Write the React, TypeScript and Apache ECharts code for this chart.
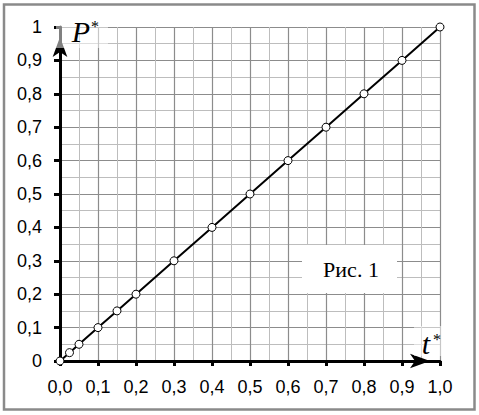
import React, { useEffect, useRef } from 'react';
import * as echarts from 'echarts';

const tValues = [0, 0.025, 0.05, 0.1, 0.15, 0.2, 0.3, 0.4, 0.5, 0.6, 0.7, 0.8, 0.9, 1.0];
const pValues = [0, 0.025, 0.05, 0.1, 0.15, 0.2, 0.3, 0.4, 0.5, 0.6, 0.7, 0.8, 0.9, 1.0];
const xTickLabels = ['0,0', '0,1', '0,2', '0,3', '0,4', '0,5', '0,6', '0,7', '0,8', '0,9', '1,0'];
const yTickLabels = ['0', '0,1', '0,2', '0,3', '0,4', '0,5', '0,6', '0,7', '0,8', '0,9', '1'];
const figureCaption = 'Рис. 1';

export default function App() {
  const ref = useRef<HTMLDivElement>(null);
  useEffect(() => {
    document.body.style.margin = '0';
    const chart = echarts.init(ref.current!, null, { renderer: 'svg' });
    const major = { color: '#8c8c8c', width: 1.2 };
    const minor = { color: '#bdbdbd', width: 1 };
    const labelFont = { fontFamily: 'Liberation Sans', fontSize: 18, color: '#000' };
    const serif = 'Liberation Serif';
    chart.setOption({
      animation: false,
      backgroundColor: '#fff',
      grid: { left: 60, right: 39, top: 27, bottom: 54, containLabel: false },
      xAxis: {
        type: 'value', min: 0, max: 1, interval: 0.1,
        axisLine: { show: true, lineStyle: { color: '#000', width: 3 }, symbol: ['none', 'arrow'], symbolSize: [11, 20], symbolOffset: [0, -10] },
        axisTick: { show: true, length: 5, lineStyle: { color: '#000', width: 3 } },
        axisLabel: { ...labelFont, margin: 17, formatter: (v: number) => xTickLabels[Math.round(v * 10)] },
        splitLine: { show: true, lineStyle: major },
        minorTick: { show: false, splitNumber: 2 },
        minorSplitLine: { show: true, lineStyle: minor },
      },
      yAxis: {
        type: 'value', min: 0, max: 1, interval: 0.1,
        axisLine: { show: true, lineStyle: { color: '#000', width: 3 }, symbol: ['none', 'arrow'], symbolSize: [11, 20], symbolOffset: [0, -10] },
        axisTick: { show: true, length: 6, lineStyle: { color: '#000', width: 3 } },
        axisLabel: { ...labelFont, margin: 18, formatter: (v: number) => yTickLabels[Math.round(v * 10)] },
        splitLine: { show: true, lineStyle: major },
        minorTick: { show: false, splitNumber: 2 },
        minorSplitLine: { show: true, lineStyle: minor },
      },
      series: [{
        type: 'line',
        data: tValues.map((t, i) => [t, pValues[i]]),
        symbol: 'circle', symbolSize: 8,
        lineStyle: { color: '#000', width: 2 },
        itemStyle: { color: '#fff', borderColor: '#000', borderWidth: 1 },
        z: 5,
      }],
      graphic: [
        { type: 'rect', z: 10, silent: true, shape: { x: 4, y: 4.5, width: 470.5, height: 405 }, style: { fill: 'none', stroke: '#8a8a8a', lineWidth: 2.5 } },
        { type: 'rect', z: 9, silent: true, shape: { x: 56, y: 3, width: 52, height: 45 }, style: { fill: 'rgba(255,255,255,0.5)' } },
        { type: 'rect', z: 9, silent: true, shape: { x: 414, y: 326, width: 28, height: 30 }, style: { fill: 'rgba(255,255,255,0.5)' } },
        { type: 'rect', z: 9, silent: true, shape: { x: 302, y: 245, width: 95, height: 48 }, style: { fill: '#fff' } },
        { type: 'text', z: 11, silent: true, x: 351, y: 269, style: { text: figureCaption, fontFamily: serif, fontSize: 22, fill: '#000', align: 'center', verticalAlign: 'middle' } },
        { type: 'text', z: 11, silent: true, x: 81, y: 31, style: { text: 'P', fontFamily: serif, fontStyle: 'italic', fontSize: 30, fill: '#000', align: 'center', verticalAlign: 'middle' } },
        { type: 'text', z: 11, silent: true, x: 95, y: 26, style: { text: '*', fontFamily: serif, fontSize: 16, fill: '#000', align: 'center', verticalAlign: 'middle' } },
        { type: 'text', z: 11, silent: true, x: 426, y: 343, style: { text: 't', fontFamily: serif, fontStyle: 'italic', fontSize: 30, fill: '#000', align: 'center', verticalAlign: 'middle' } },
        { type: 'text', z: 11, silent: true, x: 437, y: 339, style: { text: '*', fontFamily: serif, fontSize: 16, fill: '#000', align: 'center', verticalAlign: 'middle' } },
      ],
    });
    return () => chart.dispose();
  }, []);
  return <div ref={ref} style={{ width: 479, height: 415 }} />;
}
